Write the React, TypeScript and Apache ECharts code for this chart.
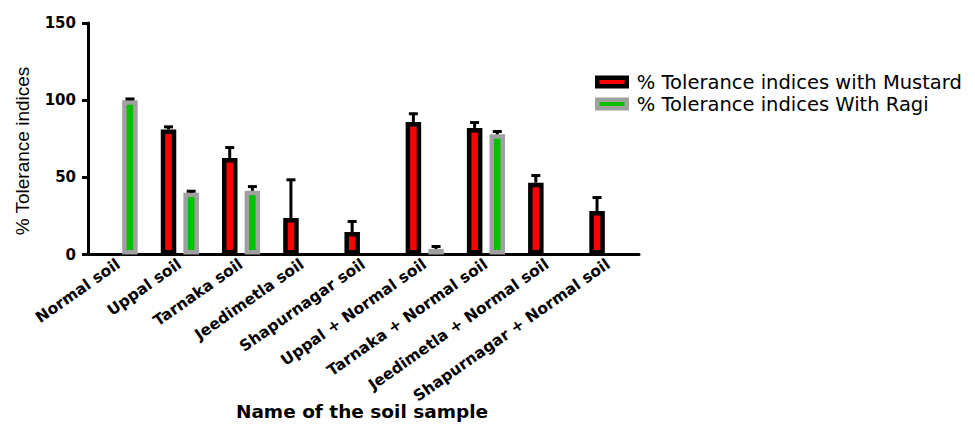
import React, { useEffect, useRef } from "react";
import * as echarts from "echarts";

const categories = [
  "Normal soil",
  "Uppal soil",
  "Tarnaka soil",
  "Jeedimetla soil",
  "Shapurnagar soil",
  "Uppal + Normal soil",
  "Tarnaka + Normal soil",
  "Jeedimetla + Normal soil",
  "Shapurnagar + Normal soil",
];
const mustard = [null, 81, 62.5, 23.7, 14.6, 85.9, 82, 46.5, 28.2];
const mustardErr = [null, 1.7, 6.8, 24.7, 6.8, 5.3, 3.5, 4.7, 8.7];
const ragi = [100, 40, 41.3, null, null, 3.6, 77.9, null, null];
const ragiErr = [0.8, 1, 2.7, null, null, 1.6, 1.8, null, null];
const yTicks = { min: 0, max: 150, interval: 50 };
const seriesNames = ["% Tolerance indices with Mustard", "% Tolerance indices With Ragi"];

export default function App() {
  const ref = useRef<HTMLDivElement>(null);
  useEffect(() => {
    if (!ref.current) return;
    const chart = echarts.init(ref.current, undefined, { renderer: "svg" });
    const barW = 15.5;
    const offset = 11.35;
    const errData = (vals: (number | null)[], errs: (number | null)[]) =>
      vals
        .map((v, i) => (v == null || errs[i] == null ? null : [i, v, errs[i]]))
        .filter((d) => d !== null);
    const errSeries = (vals: any, errs: any, dx: number) => ({
      type: "custom",
      z: 5,
      silent: true,
      data: errData(vals, errs),
      encode: { x: 0, y: 1 },
      renderItem: (params: any, api: any) => {
        const idx = api.value(0);
        const v = api.value(1);
        const e = api.value(2);
        const p0 = api.coord([idx, v]);
        const p1 = api.coord([idx, v + e]);
        const x = p0[0] + dx;
        const st = { stroke: "#000", lineWidth: 3 };
        return {
          type: "group",
          children: [
            { type: "line", shape: { x1: x, y1: p0[1], x2: x, y2: p1[1] }, style: st },
            { type: "line", shape: { x1: x - 4.5, y1: p1[1], x2: x + 4.5, y2: p1[1] }, style: st },
          ],
        };
      },
    });
    chart.setOption({
      animation: false,
      backgroundColor: "#fff",
      grid: { left: 88, right: 336, top: 23, bottom: 172.5, containLabel: false },
      legend: {
        left: 590,
        top: 67,
        orient: "vertical",
        itemWidth: 29.5,
        itemHeight: 8.5,
        itemGap: 2,
        icon: "rect",
        data: seriesNames,
        itemStyle: { borderWidth: 4.5 },
        textStyle: {
          fontFamily: "DejaVu Sans",
          fontSize: 19.5,
          color: "#000",
          padding: [0, 0, 0, 5],
        },
      },
      xAxis: {
        type: "category",
        data: categories,
        axisLine: { lineStyle: { color: "#000", width: 3 } },
        axisTick: { alignWithLabel: true, length: 6, lineStyle: { color: "#000", width: 3 } },
        axisLabel: {
          interval: 0,
          rotate: 35,
          margin: 8,
          color: "#000",
          fontFamily: "DejaVu Sans",
          fontWeight: "bold",
          fontSize: 15.5,
        },
      },
      yAxis: {
        type: "value",
        min: yTicks.min,
        max: yTicks.max,
        interval: yTicks.interval,
        splitLine: { show: false },
        axisLine: { show: true, lineStyle: { color: "#000", width: 3 } },
        axisTick: { show: true, length: 6, lineStyle: { color: "#000", width: 3 } },
        axisLabel: {
          margin: 12,
          color: "#000",
          fontFamily: "DejaVu Sans",
          fontWeight: "bold",
          fontSize: 15,
        },
      },
      graphic: [
        {
          type: "text",
          x: 22,
          y: 151,
          rotation: Math.PI / 2,
          style: {
            text: "% Tolerance indices",
            fontFamily: "Liberation Sans",
            fontSize: 19,
            fill: "#000",
            align: "center",
            verticalAlign: "middle",
          },
        },
        {
          type: "text",
          x: 362,
          y: 411,
          style: {
            text: "Name of the soil sample",
            fontFamily: "DejaVu Sans",
            fontWeight: "bold",
            fontSize: 18.5,
            fill: "#000",
            align: "center",
            verticalAlign: "middle",
          },
        },
      ],
      series: [
        {
          name: seriesNames[0],
          type: "bar",
          data: mustard,
          barWidth: barW,
          barGap: "46%",
          itemStyle: { color: "#ff0000", borderColor: "#000", borderWidth: 4.5 },
        },
        {
          name: seriesNames[1],
          type: "bar",
          data: ragi,
          barWidth: barW,
          itemStyle: { color: "#00c000", borderColor: "#a0a0a0", borderWidth: 4.5 },
        },
        errSeries(mustard, mustardErr, -offset),
        errSeries(ragi, ragiErr, offset),
      ],
    });
    return () => chart.dispose();
  }, []);
  return (
    <div
      ref={ref}
      style={{ position: "fixed", left: 0, top: 0, width: 975, height: 427, background: "#fff" }}
    />
  );
}
